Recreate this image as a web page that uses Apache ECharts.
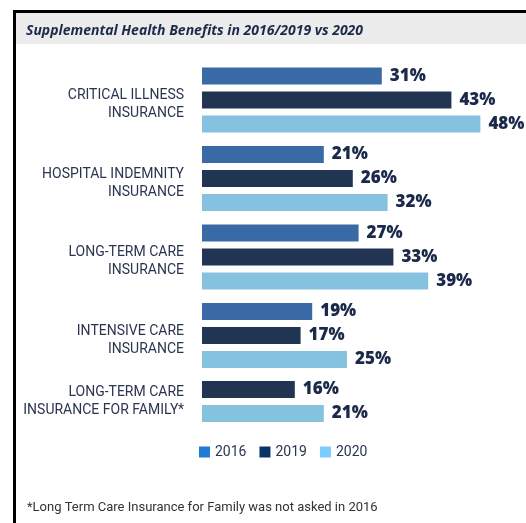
<!DOCTYPE html>
<html>
<head>
<meta charset="utf-8">
<script src="https://cdn.jsdelivr.net/npm/echarts@6/dist/echarts.min.js"></script>
<style>html,body{margin:0;padding:0;background:#fff}#c{width:526px;height:523px}</style>
</head>
<body>
<div id="c"></div>
<script>
const categories = [
  'CRITICAL ILLNESS\nINSURANCE',
  'HOSPITAL INDEMNITY\nINSURANCE',
  'LONG-TERM CARE\nINSURANCE',
  'INTENSIVE CARE\nINSURANCE',
  'LONG-TERM CARE\nINSURANCE FOR FAMILY*'
];
const years = ['2016', '2019', '2020'];
const v2016 = [31, 21, 27, 19, null];
const v2019 = [43, 26, 33, 17, 16];
const v2020 = [48, 32, 39, 25, 21];
const titleText = 'Supplemental Health Benefits in 2016/2019 vs 2020';
const footnote = '*Long Term Care Insurance for Family was not asked in 2016';

const barColors = {'2016': '#3a6aa5', '2019': '#213553', '2020': '#85c2e0'};
const legendColors = {'2016': '#1f7bd4', '2019': '#0b3566', '2020': '#7dccff'};
const values = {'2016': v2016, '2019': v2019, '2020': v2020};

// split: full groups (all years present) vs partial groups (missing years)
const fullIdx = [], partIdx = [];
categories.forEach((c, i) => {
  (years.every(y => values[y][i] != null) ? fullIdx : partIdx).push(i);
});

const PITCH = 78.5;
const LEFT = 202, XW = 290;
const g1Top = 100 - PITCH / 2;
const g2Top = g1Top + fullIdx.length * PITCH - PITCH * 0.16;

const labelCommon = {
  show: true, position: 'right', distance: 8, formatter: '{c}%',
  fontFamily: 'Open Sans', fontWeight: 800, fontSize: 17, color: '#1b2a4a'
};
function axisLabelFor(spacer) {
  return {
    margin: 18, align: 'right',
    formatter: v => (spacer ? '{s| }\n' : '') + v.split('\n').map(l => '{a|' + l + '}').join('\n'),
    rich: {
      s: {fontSize: 1, lineHeight: spacer, color: 'transparent'},
      a: {color: '#2a3550', fontFamily: 'Roboto', fontSize: 14, lineHeight: 18, align: 'right'}
    }
  };
}

const series = [];
years.forEach(y => {
  series.push({
    name: y, type: 'bar', xAxisIndex: 0, yAxisIndex: 0,
    barWidth: 17, barGap: '41%',
    itemStyle: {color: barColors[y]},
    label: labelCommon,
    data: fullIdx.map(i => values[y][i])
  });
  if (partIdx.some(i => values[y][i] != null)) {
    series.push({
      name: y, type: 'bar', xAxisIndex: 1, yAxisIndex: 1,
      barWidth: 17, barGap: '41%',
      itemStyle: {color: barColors[y]},
      label: labelCommon,
      data: partIdx.map(i => values[y][i])
    });
  }
});

const xAxisCommon = {
  type: 'value', min: 0, max: 50, show: false
};
const yAxisCommon = {
  type: 'category', inverse: true,
  axisLine: {show: false}, axisTick: {show: false}, splitLine: {show: false}
};

const option = {
  animation: false,
  title: [
    {text: titleText, left: 21, top: 19,
     textStyle: {fontFamily: 'Open Sans', fontStyle: 'italic', fontWeight: 'bold', fontSize: 14, color: '#1b2a4a'}},
    {text: footnote, left: 22, top: 496,
     textStyle: {fontFamily: 'Roboto', fontWeight: 'normal', fontSize: 13, color: '#333'}}
  ],
  legend: {
    left: 194, top: 440, itemWidth: 11, itemHeight: 11, itemGap: 13, icon: 'rect',
    textStyle: {fontFamily: 'Roboto', fontSize: 14, color: '#2a3550'},
    data: years.map(y => ({name: y, itemStyle: {color: legendColors[y]}}))
  },
  grid: [
    {left: LEFT, width: XW, top: g1Top, height: fullIdx.length * PITCH},
    {left: LEFT, width: XW, top: g2Top, height: partIdx.length * PITCH}
  ],
  xAxis: [Object.assign({gridIndex: 0}, xAxisCommon), Object.assign({gridIndex: 1}, xAxisCommon)],
  yAxis: [
    Object.assign({gridIndex: 0, data: fullIdx.map(i => categories[i]),
      axisLabel: axisLabelFor(9)}, yAxisCommon),
    Object.assign({gridIndex: 1, data: partIdx.map(i => categories[i]),
      axisLabel: axisLabelFor(0)}, yAxisCommon)
  ],
  graphic: [
    {type: 'rect', z: -10, shape: {x: 15, y: 12, width: 511, height: 32}, style: {fill: '#ececec'}},
    {type: 'rect', z: -9, shape: {x: 13, y: 10, width: 513, height: 3}, style: {fill: '#000'}},
    {type: 'rect', z: -9, shape: {x: 13, y: 10, width: 3, height: 513}, style: {fill: '#000'}}
  ],
  series: series
};

const chart = echarts.init(document.getElementById('c'), null, {renderer: 'canvas'});
chart.setOption(option);
</script>
</body>
</html>
